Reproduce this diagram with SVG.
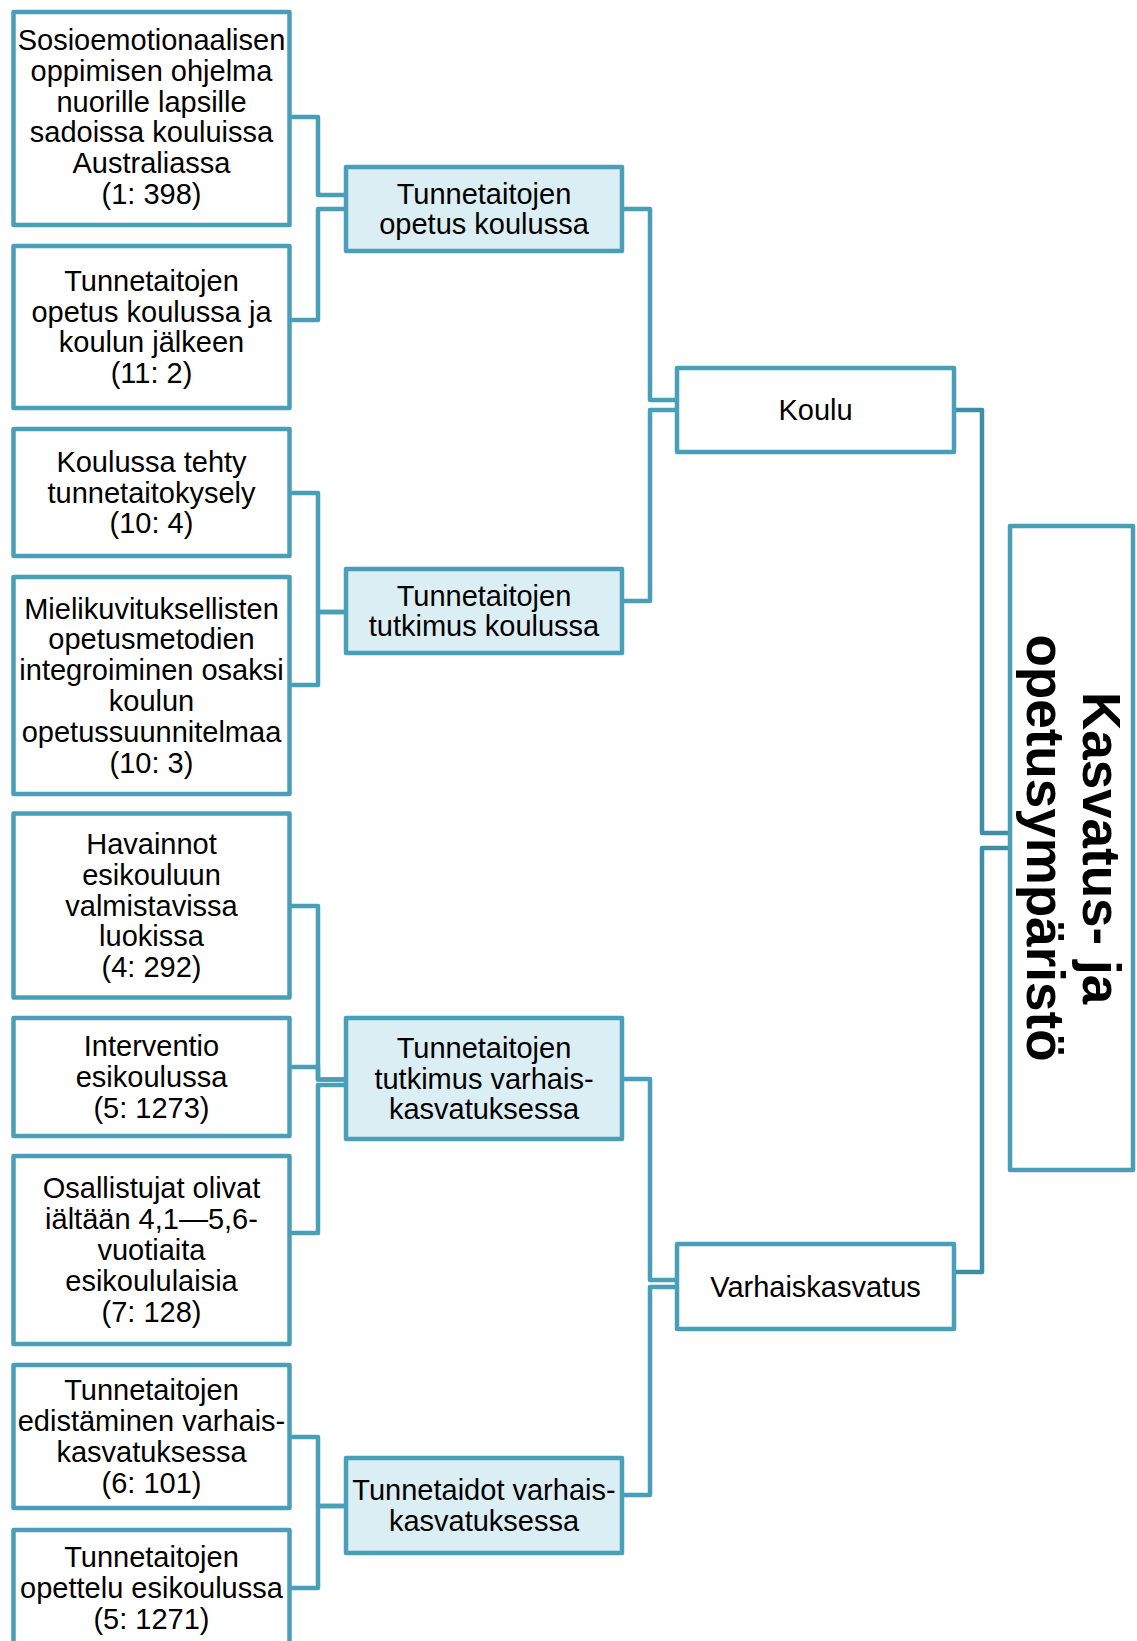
<svg xmlns="http://www.w3.org/2000/svg" width="1137" height="1641" viewBox="0 0 1137 1641">
<style>
.box{fill:#ffffff;stroke:#4A9FB8;stroke-width:4.5;stroke-linejoin:round}
.mid{fill:#DAEEF3;stroke:#4A9FB8;stroke-width:4.5;stroke-linejoin:round}
.t{font-family:"Liberation Sans",Arial,sans-serif;font-size:29px;fill:#000000;text-anchor:middle}
.root{font-family:"Liberation Sans",Arial,sans-serif;font-size:53px;font-weight:bold;fill:#000000;text-anchor:middle}
.c{fill:none;stroke:#4A9FB8;stroke-width:4.5;stroke-linejoin:round}
.c2{fill:none;stroke:#3F8EA5;stroke-width:4.5;stroke-linejoin:round}
</style>
<rect width="1137" height="1641" fill="#ffffff"/>
<g id="connectors">
<path class="c" d="M290,117 H318 V195 H346"/>
<path class="c" d="M290,320 H318 V209 H346"/>
<path class="c" d="M290,493 H318 V612 H346"/>
<path class="c" d="M290,685 H318 V612 H346"/>
<path class="c" d="M290,906 H318 V1079.5 H346"/>
<path class="c" d="M290,1067 H318 V1079.5 H346"/>
<path class="c" d="M290,1233 H318 V1085 H346"/>
<path class="c" d="M290,1437 H318 V1506 H346"/>
<path class="c" d="M290,1588 H318 V1506 H346"/>
<path class="c" d="M622,209 H650 V400 H677"/>
<path class="c" d="M622,601 H650 V410 H677"/>
<path class="c" d="M622,1079 H650 V1280 H677"/>
<path class="c" d="M622,1495 H650 V1287 H677"/>
<path class="c2" d="M954,410 H982 V833 H1010"/>
<path class="c2" d="M954,1272 H982 V848 H1010"/>
</g>
<g id="n1"><rect class="box" x="13.5" y="12" width="276" height="213"/>
<text class="t"><tspan x="151.5" y="50">Sosioemotionaalisen</tspan><tspan x="151.5" y="80.8">oppimisen ohjelma</tspan><tspan x="151.5" y="111.6">nuorille lapsille</tspan><tspan x="151.5" y="142.4">sadoissa kouluissa</tspan><tspan x="151.5" y="173.2">Australiassa</tspan><tspan x="151.5" y="204">(1: 398)</tspan></text></g>
<g id="n2"><rect class="box" x="13.5" y="246" width="276" height="162"/>
<text class="t"><tspan x="151.5" y="290.8">Tunnetaitojen</tspan><tspan x="151.5" y="321.6">opetus koulussa ja</tspan><tspan x="151.5" y="352.4">koulun jälkeen</tspan><tspan x="151.5" y="383.2">(11: 2)</tspan></text></g>
<g id="n3"><rect class="box" x="13.5" y="429" width="276" height="127"/>
<text class="t"><tspan x="151.5" y="471.7">Koulussa tehty</tspan><tspan x="151.5" y="502.5">tunnetaitokysely</tspan><tspan x="151.5" y="533.3">(10: 4)</tspan></text></g>
<g id="n4"><rect class="box" x="13.5" y="577" width="276" height="217"/>
<text class="t"><tspan x="151.5" y="618.5">Mielikuvituksellisten</tspan><tspan x="151.5" y="649.3">opetusmetodien</tspan><tspan x="151.5" y="680.1">integroiminen osaksi</tspan><tspan x="151.5" y="710.9">koulun</tspan><tspan x="151.5" y="741.7">opetussuunnitelmaa</tspan><tspan x="151.5" y="772.5">(10: 3)</tspan></text></g>
<g id="n5"><rect class="box" x="13.5" y="813.5" width="276" height="184"/>
<text class="t"><tspan x="151.5" y="853.9">Havainnot</tspan><tspan x="151.5" y="884.7">esikouluun</tspan><tspan x="151.5" y="915.5">valmistavissa</tspan><tspan x="151.5" y="946.3">luokissa</tspan><tspan x="151.5" y="977.1">(4: 292)</tspan></text></g>
<g id="n6"><rect class="box" x="13.5" y="1018" width="276" height="118"/>
<text class="t"><tspan x="151.5" y="1056.2">Interventio</tspan><tspan x="151.5" y="1087">esikoulussa</tspan><tspan x="151.5" y="1117.8">(5: 1273)</tspan></text></g>
<g id="n7"><rect class="box" x="13.5" y="1156" width="276" height="188"/>
<text class="t"><tspan x="151.5" y="1198.4">Osallistujat olivat</tspan><tspan x="151.5" y="1229.2">iältään 4,1—5,6-</tspan><tspan x="151.5" y="1260">vuotiaita</tspan><tspan x="151.5" y="1290.8">esikoululaisia</tspan><tspan x="151.5" y="1321.6">(7: 128)</tspan></text></g>
<g id="n8"><rect class="box" x="13.5" y="1365" width="276" height="143"/>
<text class="t"><tspan x="151.5" y="1400.3">Tunnetaitojen</tspan><tspan x="151.5" y="1431.1">edistäminen varhais-</tspan><tspan x="151.5" y="1461.9">kasvatuksessa</tspan><tspan x="151.5" y="1492.7">(6: 101)</tspan></text></g>
<g id="n9"><rect class="box" x="13.5" y="1530" width="276" height="116"/>
<text class="t"><tspan x="151.5" y="1567.2">Tunnetaitojen</tspan><tspan x="151.5" y="1598">opettelu esikoulussa</tspan><tspan x="151.5" y="1628.8">(5: 1271)</tspan></text></g>
<g id="m1"><rect class="mid" x="346" y="167" width="276" height="84"/>
<text class="t"><tspan x="484" y="203.6">Tunnetaitojen</tspan><tspan x="484" y="234.4">opetus koulussa</tspan></text></g>
<g id="m2"><rect class="mid" x="346" y="569" width="276" height="84"/>
<text class="t"><tspan x="484" y="605.6">Tunnetaitojen</tspan><tspan x="484" y="636.4">tutkimus koulussa</tspan></text></g>
<g id="m3"><rect class="mid" x="346" y="1018" width="276" height="121"/>
<text class="t"><tspan x="484" y="1057.7">Tunnetaitojen</tspan><tspan x="484" y="1088.5">tutkimus varhais-</tspan><tspan x="484" y="1119.3">kasvatuksessa</tspan></text></g>
<g id="m4"><rect class="mid" x="346" y="1458" width="276" height="95"/>
<text class="t"><tspan x="484" y="1500.1">Tunnetaidot varhais-</tspan><tspan x="484" y="1530.9">kasvatuksessa</tspan></text></g>
<g id="koulu"><rect class="box" x="677" y="368" width="277" height="84"/>
<text class="t" x="815.5" y="420">Koulu</text></g>
<g id="varhaiskasvatus"><rect class="box" x="677" y="1244" width="277" height="85"/>
<text class="t" x="815.5" y="1296.5">Varhaiskasvatus</text></g>
<g id="root"><rect class="box" x="1010" y="526" width="123" height="644"/>
<text class="root" transform="translate(1083,848) rotate(90)"><tspan x="0" y="0">Kasvatus- ja</tspan><tspan x="0" y="56">opetusympäristö</tspan></text></g>
</svg>
